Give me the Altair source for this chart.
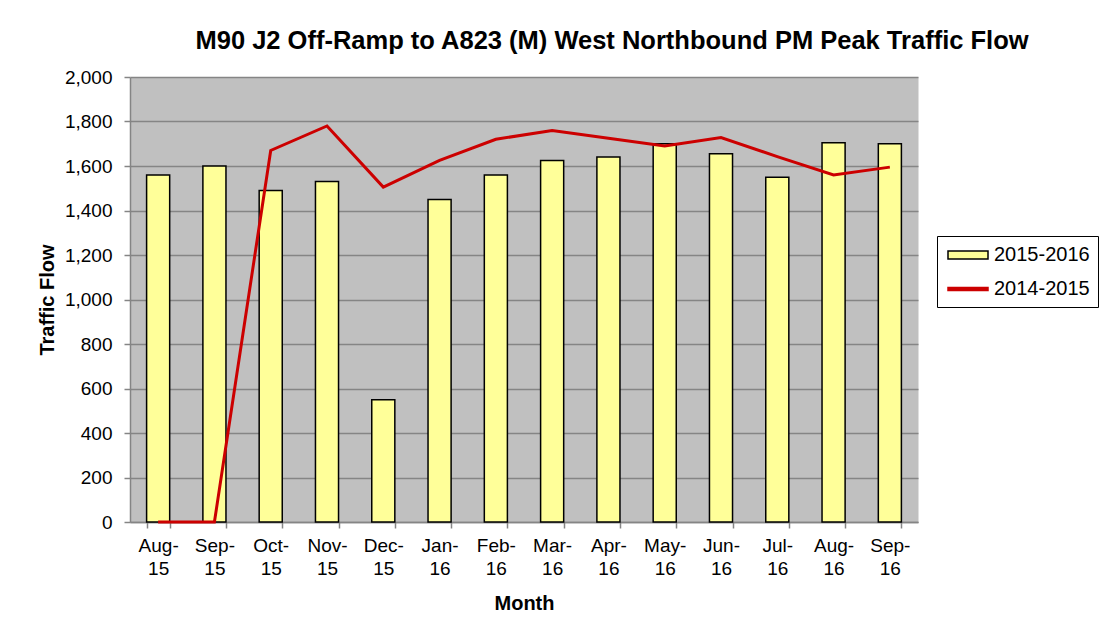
import altair as alt
import pandas as pd

months = ["Aug-15", "Sep-15", "Oct-15", "Nov-15", "Dec-15", "Jan-16", "Feb-16",
          "Mar-16", "Apr-16", "May-16", "Jun-16", "Jul-16", "Aug-16", "Sep-16"]
flow_2015_2016 = [1560, 1600, 1490, 1530, 550, 1450, 1560, 1625, 1640, 1700, 1655, 1550, 1705, 1700]
flow_2014_2015 = [0, 0, 1670, 1780, 1505, 1625, 1720, 1760, 1725, 1690, 1728, 1642, 1560, 1595]
series_names = ["2015-2016", "2014-2015"]
y_ticks = [0, 200, 400, 600, 800, 1000, 1200, 1400, 1600, 1800, 2000]

bars_df = pd.DataFrame({"month": months, "flow": flow_2015_2016, "series": series_names[0]})
line_df = pd.DataFrame({"month": months, "flow": flow_2014_2015, "series": series_names[1]})
legend_df = pd.DataFrame({"series": series_names})

FONT = "Liberation Sans"
GRID = "#858585"

bar_path = "M-2,-0.4H2V0.4H-2Z"
line_path = "M-2,-0.14H2V0.14H-2Z"

fill_scale = alt.Scale(domain=series_names, range=["#ffff99", "#cc0000"])
stroke_scale = alt.Scale(domain=series_names, range=["#000000", "#cc0000"])
shape_scale = alt.Scale(domain=series_names, range=[bar_path, line_path])

legend = alt.Legend(
    title=None, orient="none", legendX=807, legendY=159,
    strokeColor="#000000", fillColor="#ffffff", padding=8,
    symbolSize=400, symbolStrokeWidth=1.5, symbolOpacity=1, symbolOffset=12,
    labelFont=FONT, labelFontSize=20, labelColor="#000000", labelOffset=15,
    rowPadding=13,
)

x_enc = alt.X(
    "month:N", sort=months, title="Month",
    scale=alt.Scale(paddingInner=0.59, paddingOuter=0.295),
    axis=alt.Axis(
        labelAngle=0, tickBand="extent", tickSize=6, labelPadding=8,
        labelExpr="indexof(datum.label, '-') > 0 ? [split(datum.label, '-')[0] + '-', split(datum.label, '-')[1]] : ''",
        labelLineHeight=23, titlePadding=15,
    ),
)
y_enc = alt.Y(
    "flow:Q", title="Traffic Flow",
    scale=alt.Scale(domain=[0, 2000], nice=False),
    axis=alt.Axis(values=y_ticks, format=",.0f", tickSize=6, labelPadding=12, titlePadding=7),
)

bars = alt.Chart(bars_df).mark_bar(strokeWidth=1.5).encode(
    x=x_enc, y=y_enc,
    fill=alt.Fill("series:N", scale=fill_scale, legend=legend),
    stroke=alt.Stroke("series:N", scale=stroke_scale, legend=legend),
)

line = alt.Chart(line_df).mark_line(strokeWidth=3).encode(
    x=x_enc, y=y_enc,
    stroke=alt.Stroke("series:N", scale=stroke_scale, legend=legend),
)

legend_layer = alt.Chart(legend_df).transform_filter("false").mark_point(filled=True).encode(
    fill=alt.Fill("series:N", scale=fill_scale, legend=legend),
    stroke=alt.Stroke("series:N", scale=stroke_scale, legend=legend),
    shape=alt.Shape("series:N", scale=shape_scale, legend=legend),
)

chart = alt.layer(bars, line, legend_layer).properties(
    width=788, height=445,
    view=alt.ViewBackground(fill="#c0c0c0", stroke="transparent"),
    autosize=alt.AutoSizeParams(type="none"),
    padding={"left": 122, "top": 69, "right": 191, "bottom": 104},
    title=alt.TitleParams(
        "M90 J2 Off-Ramp to A823 (M) West Northbound PM Peak Traffic Flow",
        font=FONT, fontSize=25.5, fontWeight="bold", color="#000000",
        anchor="middle", dx=88, offset=14,
    ),
).configure_view(
    fill="#c0c0c0", stroke="transparent",
).configure_axis(
    labelFont=FONT, labelFontSize=19, labelColor="#000000",
    titleFont=FONT, titleFontSize=20, titleFontWeight="bold", titleColor="#000000",
    domainColor=GRID, domainWidth=1.5, tickColor=GRID, tickWidth=1.5,
    gridColor=GRID, gridWidth=1.5,
).configure_axisX(grid=False).configure_axisY(grid=True)

chart.save("out.html", embed_options={"renderer": "svg", "actions": False})
